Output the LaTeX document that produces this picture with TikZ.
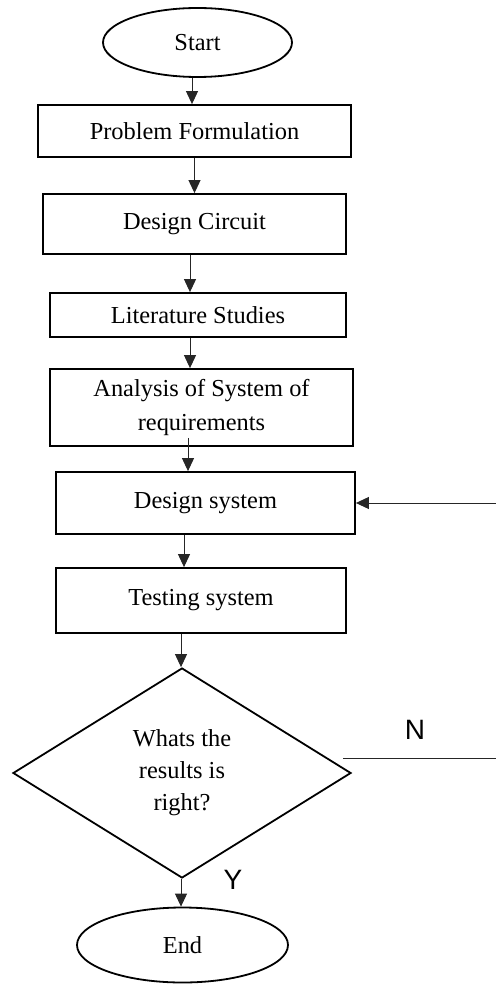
\documentclass[tikz,border=0pt]{standalone}
\usepackage{fontspec}
\setmainfont{Liberation Serif}
\newfontfamily\labelfont{Liberation Sans}
\usetikzlibrary{shapes.geometric,arrows.meta}

\begin{document}
\begin{tikzpicture}
        [x=0.5pt,y=-0.5pt,
        font=\fontsize{12.2}{17}\selectfont,
        boxdecorate/.style={shape=rectangle,draw,line width=0.9pt,inner sep=1pt,align=center},%
        termdecorate/.style={shape=ellipse,draw,line width=0.9pt,inner sep=0pt},%
        arrowdecorate/.style={-{Triangle[width=6pt,length=6.5pt]},line width=0.5pt,draw=black!85}]
        \useasboundingbox (0,0) rectangle (496,984);
        %% terminals
        \node (start) at (197.5,42.5) [termdecorate,minimum width=94.5pt,minimum height=34.5pt] {Start};
        \node (end) at (182.5,945) [termdecorate,minimum width=105.5pt,minimum height=37.5pt] {End};

        %% process boxes
        \foreach \nodename/\x/\y/\w/\h/\txt in {
          prob/194.5/131/156.5pt/26pt/{Problem Formulation},
          circ/194.5/224/151.5pt/30pt/{Design Circuit},
          lit/198/315/148pt/22pt/{Literature Studies},
          anal/201.5/407.5/151.5pt/38.5pt/{Analysis of System of\\requirements},
          dsys/205.5/503/149.5pt/31pt/{Design system},
          test/201/600.5/145pt/32.5pt/{Testing system}}
        {
          \node (\nodename) at (\x,\y) [boxdecorate,minimum width=\w,minimum height=\h] {\txt};
        }

        %% decision
        \node (dec) at (182,773) [shape=diamond,draw,line width=0.9pt,inner sep=0pt,
          aspect=1.6,minimum width=169pt,minimum height=105pt,align=center,
          font=\fontsize{12.2}{16}\selectfont] {Whats the\\results is\\right?};
        \node (yes) at (233,880) [font=\labelfont\fontsize{14}{16}\selectfont] {Y};
        \node (no) at (415,730) [font=\labelfont\fontsize{14}{16}\selectfont] {N};

        %% edges or lines
        \foreach \startnode/\endnode/\dx/\dy in {start/prob/-2.75pt/0pt,
          prob/circ/0pt/0pt, circ/lit/-2.25pt/0pt, lit/anal/-4pt/0pt,
          anal/dsys/-6.75pt/4.5pt, dsys/test/-10.75pt/0pt, test/dec/-10pt/0pt,
          dec/end/-0.5pt/0pt}
        {
          \draw[arrowdecorate] ([xshift=\dx,yshift=\dy]\startnode.south)
            -- ([xshift=\dx]\startnode.south |- \endnode.north);
        }
        \coordinate (backR) at (496,503);
        \coordinate (noL) at (343,758);
        \coordinate (noR) at (496,758);
        \draw[arrowdecorate] (backR) -- (dsys.east);
        \draw[line width=0.5pt,draw=black!85] (noL) -- (noR);
      \end{tikzpicture}
\end{document}
